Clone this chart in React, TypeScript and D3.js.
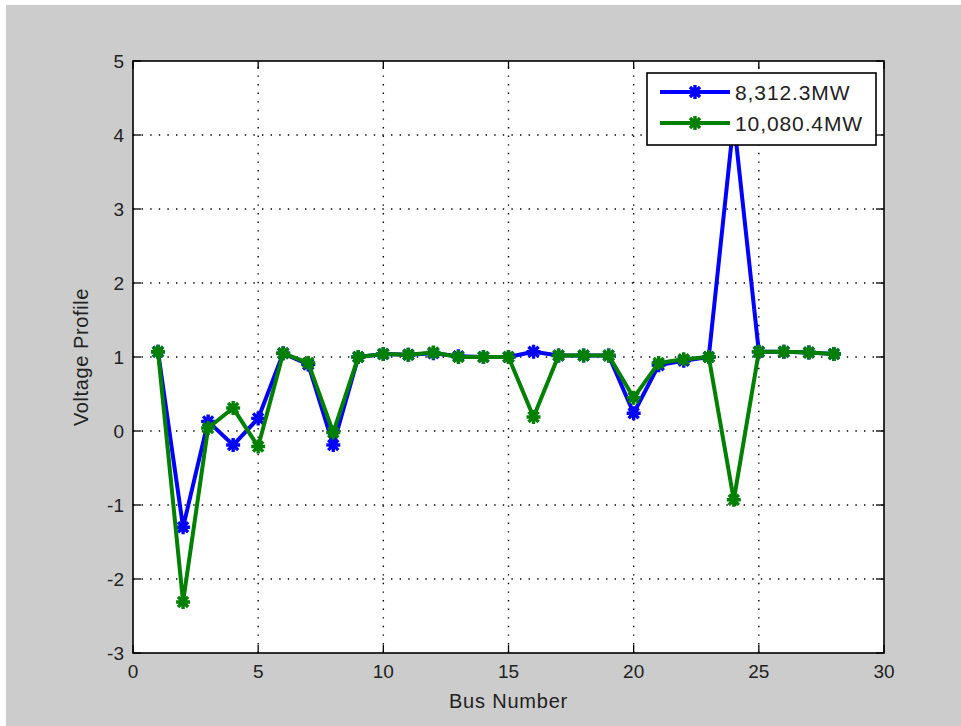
import React from 'react';
import * as d3 from 'd3';

const busNumbers = [1, 2, 3, 4, 5, 6, 7, 8, 9, 10, 11, 12, 13, 14, 15, 16, 17, 18, 19, 20, 21, 22, 23, 24, 25, 26, 27, 28];
const load8312 = [1.07, -1.3, 0.13, -0.19, 0.17, 1.05, 0.9, -0.19, 1.0, 1.04, 1.03, 1.05, 1.01, 1.0, 1.0, 1.07, 1.02, 1.02, 1.02, 0.24, 0.89, 0.95, 1.0, 4.2, 1.07, 1.07, 1.06, 1.04];
const load10080 = [1.07, -2.31, 0.04, 0.31, -0.21, 1.05, 0.92, -0.02, 1.0, 1.04, 1.03, 1.06, 1.0, 1.0, 1.0, 0.19, 1.02, 1.02, 1.02, 0.45, 0.92, 0.97, 1.0, -0.93, 1.07, 1.07, 1.06, 1.04];
const seriesNames = ['8,312.3MW', '10,080.4MW'];
const seriesColors = ['#0000ff', '#008000'];
const xTicks = [0, 5, 10, 15, 20, 25, 30];
const yTicks = [-3, -2, -1, 0, 1, 2, 3, 4, 5];
const xLabel = 'Bus Number';
const yLabel = 'Voltage Profile';

const W = 961;
const H = 726;
const L = 133, R = 884, T = 61, B = 653;
const FONT = '"Liberation Sans", Arial, sans-serif';

function starPath(r: number) {
  const a = r * 0.72;
  return `M${-r},0L${r},0M0,${-r}L0,${r}M${-a},${-a}L${a},${a}M${-a},${a}L${a},${-a}`;
}

export default function App() {
  const x = d3.scaleLinear().domain([0, 30]).range([L, R]);
  const y = d3.scaleLinear().domain([-3, 5]).range([B, T]);
  const series = [load8312, load10080];
  const line = d3.line<number>().x((_, i) => x(busNumbers[i])).y(d => y(d));
  const star = starPath(7);

  return (
    <svg width={W} height={H} style={{ position: 'absolute', left: 0, top: 0 }} fontFamily={FONT}>
      <rect x={0} y={0} width={W} height={H} fill="#ffffff" />
      <rect x={6} y={5} width={W - 6} height={H - 5} fill="#cccccc" />
      <rect x={L} y={T} width={R - L} height={B - T} fill="#ffffff" />
      {/* grid */}
      <g stroke="#000" strokeWidth={1.4} strokeDasharray="1.4 7.2">
        {xTicks.slice(1, -1).map(t => (
          <line key={'gx' + t} x1={x(t)} x2={x(t)} y1={B} y2={T} />
        ))}
        {yTicks.slice(1, -1).map(t => (
          <line key={'gy' + t} x1={L} x2={R} y1={y(t)} y2={y(t)} />
        ))}
      </g>
      {/* ticks */}
      <g stroke="#000" strokeWidth={1.3}>
        {xTicks.map(t => (
          <g key={'tx' + t}>
            <line x1={x(t)} x2={x(t)} y1={B} y2={B - 8} />
            <line x1={x(t)} x2={x(t)} y1={T} y2={T + 8} />
          </g>
        ))}
        {yTicks.map(t => (
          <g key={'ty' + t}>
            <line x1={L} x2={L + 8} y1={y(t)} y2={y(t)} />
            <line x1={R} x2={R - 8} y1={y(t)} y2={y(t)} />
          </g>
        ))}
      </g>
      {/* data */}
      {series.map((s, si) => (
        <g key={'s' + si} stroke={seriesColors[si]} fill="none" strokeWidth={4} strokeLinejoin="round">
          <path d={line(s) || ''} />
          {s.map((v, i) => (
            <path key={i} d={star} transform={`translate(${x(busNumbers[i])},${y(v)})`} strokeWidth={3.4} />
          ))}
        </g>
      ))}
      {/* axes box */}
      <rect x={L} y={T} width={R - L} height={B - T} fill="none" stroke="#000" strokeWidth={1.6} />
      {/* tick labels */}
      <g fontSize={19} fill="#222">
        {xTicks.map(t => (
          <text key={'lx' + t} x={x(t)} y={B + 25} textAnchor="middle">{t}</text>
        ))}
        {yTicks.map(t => (
          <text key={'ly' + t} x={L - 9} y={y(t) + 7} textAnchor="end">{t}</text>
        ))}
      </g>
      <text x={(L + R) / 2} y={708} textAnchor="middle" fontSize={20} letterSpacing={0.8} fill="#222">{xLabel}</text>
      <text transform={`translate(88,${(T + B) / 2}) rotate(-90)`} textAnchor="middle" fontSize={20} letterSpacing={0.6} fill="#222">{yLabel}</text>
      {/* legend */}
      <g>
        <rect x={647} y={73} width={229} height={72} fill="#ffffff" stroke="#000" strokeWidth={1.6} />
        {seriesNames.map((n, i) => {
          const ly = 92 + i * 31;
          return (
            <g key={'lg' + i}>
              <line x1={660} x2={730} y1={ly} y2={ly} stroke={seriesColors[i]} strokeWidth={4} />
              <path d={star} transform={`translate(695,${ly})`} stroke={seriesColors[i]} strokeWidth={3.4} fill="none" />
              <text x={735} y={ly + 8} fontSize={21} letterSpacing={0.9} fill="#222">{n}</text>
            </g>
          );
        })}
      </g>
    </svg>
  );
}
